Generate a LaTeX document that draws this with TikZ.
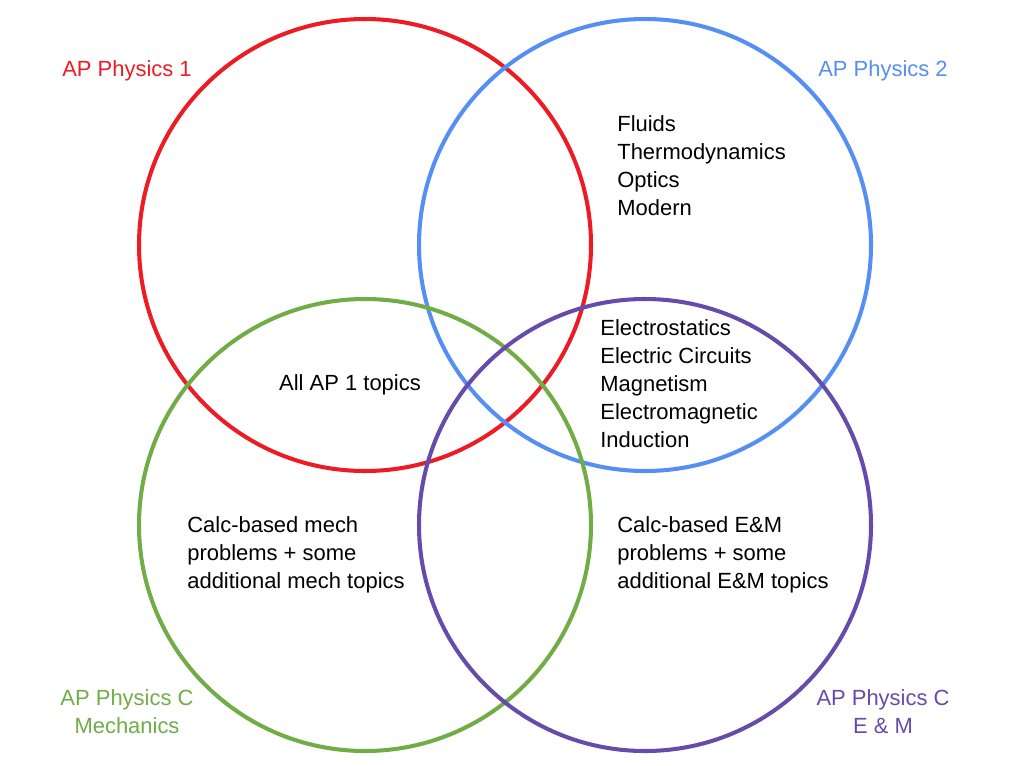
\documentclass[tikz,border=0pt]{standalone}
\usepackage{fontspec}
\setmainfont{Liberation Sans}
\usetikzlibrary{positioning}
\definecolor{apRed}{RGB}{237, 28, 36}
\definecolor{apBlue}{RGB}{85, 142, 245}
\definecolor{apGreen}{RGB}{112, 173, 71}
\definecolor{apPurple}{RGB}{102, 75, 170}
\begin{document}
\begin{tikzpicture}[
        x=0.02cm, y=-0.02cm,
        ring/.style={line width=2.3pt},
        title/.style={font=\fontsize{12.5}{15.9}\selectfont, align=center, inner sep=0pt},
        topics/.style={font=\fontsize{12.5}{15.9}\selectfont, align=left, anchor=north west, inner sep=0pt}
    ]
    \useasboundingbox (0,0) rectangle (1010,765);
    % the four circles
    \draw[ring, apRed] (365,245) circle (226);
    \draw[ring, apBlue] (645,245) circle (226);
    \draw[ring, apGreen] (365,525) circle (226);
    \draw[ring, apPurple] (645,525) circle (226);
    % titles
    \node[title, text=apRed] (p1) at (127,71) {AP Physics 1};
    \node[title, text=apBlue] (p2) at (883,71) {AP Physics 2};
    \node[title, text=apGreen] (pcm) at (127,712) {AP Physics C\\Mechanics};
    \node[title, text=apPurple] (pce) at (883,712) {AP Physics C\\E \& M};
    % topics
    \node[topics] (fluids) at (617,115) {Fluids\\Thermodynamics\\Optics\\Modern};
    \node[topics] (elec) at (600,319) {Electrostatics\\Electric Circuits\\Magnetism\\Electromagnetic\\Induction};
    \node[title] (all) at (350,385) {All AP 1 topics};
    \node[topics] (mech) at (187,516) {Calc-based mech\\problems + some\\additional mech topics};
    \node[topics] (em) at (617,516) {Calc-based E\&M\\problems + some\\additional E\&M topics};
\end{tikzpicture}
\end{document}
